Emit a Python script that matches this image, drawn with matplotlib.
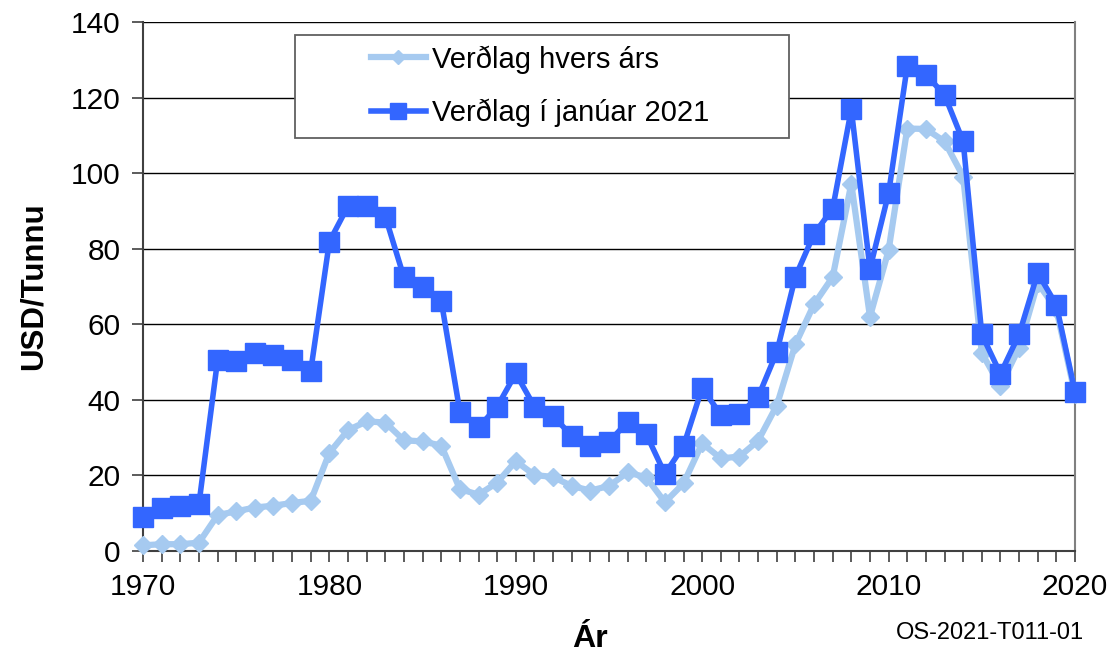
import matplotlib
matplotlib.use("Agg")
import matplotlib.pyplot as plt
from matplotlib.patches import Rectangle
from matplotlib.ticker import MultipleLocator

plt.rcParams['font.family'] = ['Liberation Sans', 'DejaVu Sans']

years = list(range(1970, 2021))
nominal = [1.5, 1.8, 1.8, 2.2, 9.5, 10.5, 11.5, 12.0, 12.7, 13.3,
           26.0, 32.0, 34.3, 34.0, 29.3, 29.0, 27.9, 16.4, 14.9, 18.1,
           23.8, 20.1, 19.6, 17.2, 16.0, 17.2, 20.8, 19.5, 12.9, 17.9,
           28.5, 24.5, 25.0, 29.2, 38.5, 54.7, 65.3, 72.5, 97.2, 62.0,
           79.6, 111.8, 111.7, 108.4, 99.1, 52.4, 43.6, 53.8, 70.9, 64.0,
           41.5]
real2021 = [9.1, 11.3, 11.9, 12.4, 50.5, 50.3, 52.5, 51.9, 50.5, 47.7,
            81.9, 91.3, 91.3, 88.5, 72.4, 69.9, 66.2, 36.9, 32.7, 38.2,
            47.0, 38.2, 35.7, 30.5, 27.8, 28.9, 34.2, 30.9, 20.4, 27.8,
            43.2, 36.0, 36.2, 40.8, 52.6, 72.6, 83.9, 90.6, 116.9, 74.7,
            94.7, 128.3, 126.1, 120.7, 108.4, 57.3, 46.9, 57.3, 73.6, 65.1,
            42.1]
labels = ["Verðlag hvers árs", "Verðlag í janúar 2021"]
x_ticks = [1970, 1980, 1990, 2000, 2010, 2020]
y_ticks = [0, 20, 40, 60, 80, 100, 120, 140]

light = '#A6CAF0'
dark = '#3366FF'

fig = plt.figure(figsize=(11.19, 6.53), dpi=100)
ax = fig.add_axes([143/1119, 102/653, 932/1119, 529/653])

ax.set_xlim(1970, 2020)
ax.set_ylim(0, 140)
ax.set_xticks(x_ticks)
ax.xaxis.set_minor_locator(MultipleLocator(1))
ax.set_yticks(y_ticks)

ax.grid(axis='y', color='black', linewidth=1.0, zorder=1)
ax.set_axisbelow(True)

for s in ['left', 'bottom']:
    ax.spines[s].set_color('#404040')
    ax.spines[s].set_linewidth(1.5)
ax.spines['right'].set_color('#808080')
ax.spines['right'].set_linewidth(1.5)
ax.spines['top'].set_visible(False)

ax.tick_params(axis='both', which='both', direction='out', length=8,
               width=1.2, color='#404040', labelsize=21.5)
ax.tick_params(axis='x', which='both', pad=8)
ax.tick_params(axis='y', pad=8)

l1, = ax.plot(years, nominal, color=light, linewidth=4.5, marker='D',
              markersize=9.5, markerfacecolor=light, markeredgecolor=light,
              zorder=3, clip_on=False)
l2, = ax.plot(years, real2021, color=dark, linewidth=4, marker='s',
              markersize=14.5, markerfacecolor=dark, markeredgecolor=dark,
              zorder=4, clip_on=False)

box = Rectangle((0.1631, 0.7807), 0.5300, 0.1947, transform=ax.transAxes,
                facecolor='white', edgecolor='#606060', linewidth=1.3,
                zorder=2.5)
ax.add_patch(box)
leg = ax.legend([l1, l2], labels, loc='center',
                bbox_to_anchor=(0.426, 0.879), frameon=False, fontsize=21,
                handlelength=1.9, handletextpad=0.2, labelspacing=0.85,
                markerscale=0.8)

ax.set_ylabel("USD/Tunnu", fontsize=22.5, fontweight='bold')
ax.set_xlabel("Ár", fontsize=23, fontweight='bold')
ax.yaxis.set_label_coords(-0.101, 0.5)
ax.xaxis.set_label_coords(0.48, -0.138)

fig.text(990/1119, 1 - 633/653, "OS-2021-T011-01", fontsize=17,
         ha='center', va='center')

fig.savefig('out.png', dpi=100)
